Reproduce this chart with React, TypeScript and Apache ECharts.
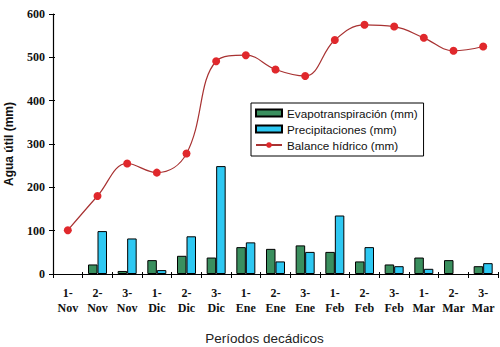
import React, { useEffect, useRef } from "react";
import * as echarts from "echarts";

const categories = ["1-\nNov", "2-\nNov", "3-\nNov", "1-\nDic", "2-\nDic", "3-\nDic", "1-\nEne", "2-\nEne", "3-\nEne", "1-\nFeb", "2-\nFeb", "3-\nFeb", "1-\nMar", "2-\nMar", "3-\nMar"];
const evapotranspiracion = [null, 22, 7, 32, 42, 38, 62, 58, 66, 51, 29, 22, 38, 32, 18];
const precipitaciones = [null, 99, 82, 9, 87, 249, 73, 29, 51, 135, 62, 18, 12, null, 25];
const balance = [101, 180, 255, 234, 278, 491, 505, 472, 457, 540, 575, 571, 545, 515, 525];
const yTicks = [0, 100, 200, 300, 400, 500, 600];

export default function App() {
  const ref = useRef<HTMLDivElement>(null);
  useEffect(() => {
    if (!ref.current) return;
    const chart = echarts.init(ref.current, null, { renderer: "svg" });
    const yMin = yTicks[0];
    const yMax = yTicks[yTicks.length - 1];
    chart.setOption({
      animation: false,
      backgroundColor: "#ffffff",
      grid: { left: 53, right: 2, top: 14, bottom: 73, containLabel: false, outerBoundsMode: "none" },
      legend: {
        orient: "vertical",
        left: 251,
        top: 103,
        borderColor: "#000",
        borderWidth: 1,
        padding: [4, 6, 5, 4],
        itemGap: 4,
        itemWidth: 26,
        itemHeight: 7,
        textStyle: { fontFamily: "Liberation Sans", fontSize: 11.7, color: "#111" },
        data: [
          { name: "Evapotranspiración (mm)", icon: "rect" },
          { name: "Precipitaciones (mm)", icon: "rect" },
          { name: "Balance hídrico (mm)" },
        ],
      },
      xAxis: [
        {
          type: "category",
          data: categories,
          name: "Períodos decádicos",
          nameLocation: "middle",
          nameGap: 57,
          nameTextStyle: { fontFamily: "Liberation Sans", fontSize: 13.5, color: "#222", padding: [0, 22, 0, 0] },
          axisLine: { lineStyle: { color: "#000", width: 1.2 } },
          axisTick: { show: true, interval: 0, length: 4, lineStyle: { color: "#000" } },
          axisLabel: {
            interval: 0,
            margin: 11,
            fontFamily: "Liberation Serif",
            fontWeight: "bold",
            fontSize: 12,
            lineHeight: 15,
            color: "#111",
          },
        },
        {
          type: "category",
          data: categories,
          position: "bottom",
          offset: 0,
          axisLine: { show: false },
          axisTick: { show: true, inside: true, interval: 0, length: 2, lineStyle: { color: "#000" } },
          axisLabel: { show: false },
        },
      ],
      yAxis: [
        {
          type: "value",
          min: yMin,
          max: yMax,
          interval: 100,
          name: "Agua útil (mm)",
          nameLocation: "middle",
          nameGap: 38,
          nameTextStyle: { fontFamily: "Liberation Sans", fontWeight: "bold", fontSize: 12, color: "#111" },
          axisLine: { show: true, lineStyle: { color: "#000", width: 1.2 } },
          axisTick: { show: true, length: 4, lineStyle: { color: "#000" } },
          splitLine: { show: false },
          axisLabel: {
            margin: 8,
            fontFamily: "Liberation Serif",
            fontWeight: "bold",
            fontSize: 12,
            color: "#111",
          },
        },
        {
          type: "value",
          min: yMin,
          max: yMax,
          interval: 100,
          position: "left",
          offset: 0,
          axisLine: { show: false },
          axisTick: { show: true, inside: true, length: 2, lineStyle: { color: "#000" } },
          splitLine: { show: false },
          axisLabel: { show: false },
        },
      ],
      series: [
        {
          name: "Evapotranspiración (mm)",
          type: "bar",
          data: evapotranspiracion,
          barWidth: 9.5,
          barGap: "0%",
          itemStyle: { color: "#3a8f5e", borderColor: "#000", borderWidth: 1 },
        },
        {
          name: "Precipitaciones (mm)",
          type: "bar",
          data: precipitaciones,
          barWidth: 9.5,
          barGap: "0%",
          itemStyle: { color: "#2ec8f2", borderColor: "#000", borderWidth: 1 },
        },
        {
          name: "Balance hídrico (mm)",
          type: "line",
          data: balance,
          smooth: 0.4,
          symbol: "circle",
          symbolSize: 8,
          lineStyle: { color: "#a83232", width: 1.2 },
          itemStyle: { color: "#e0282c", borderWidth: 0 },
          z: 5,
        },
      ],
    });
    return () => chart.dispose();
  }, []);
  return <div ref={ref} style={{ width: 500, height: 347, position: "absolute", left: 0, top: 0 }} />;
}
